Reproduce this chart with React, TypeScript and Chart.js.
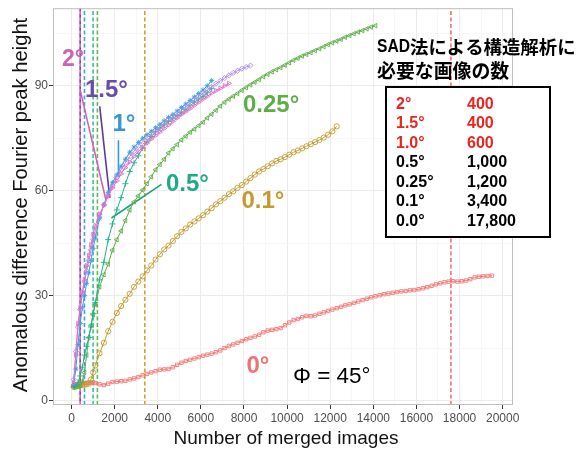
import React, { useEffect, useRef } from 'react';
import { Chart, registerables } from 'chart.js';
Chart.register(...registerables);

// Number of merged images (shared x grid)
const X_IMAGES = [
  100, 200, 300, 400, 500, 600, 700, 800, 900, 1000,
  1100, 1300, 1500, 1700, 1900, 2100, 2300, 2500, 2700, 2900,
  3100, 3300, 3500, 3700, 3900, 4100, 4300, 4500, 4700, 4900,
  5100, 5300, 5500, 5700, 5900, 6100, 6300, 6500, 6700, 6900,
  7100, 7300, 7500, 7700, 7900, 8100, 8300, 8500, 8700, 8900,
  9100, 9300, 9500, 9700, 9900, 10100, 10300, 10500, 10700, 10900,
  11100, 11300, 11500, 11700, 11900, 12100, 12300, 12500, 12700, 12900,
  13100, 13300, 13500, 13700, 13900, 14100, 14300, 14500, 14700, 14900,
  15100, 15300, 15500, 15700, 15900, 16100, 16300, 16500, 16700, 16900,
  17100, 17300, 17500, 17700, 17900, 18100, 18300, 18500, 18700, 18900,
  19100, 19300, 19500,
];

// Anomalous difference Fourier peak height per series
const Y_0 = [
  4.2, 4.4, 4.6, 4.8, 4.9, 5.0, 5.0, 5.1, 5.1, 5.2,
  5.0, 4.6, 4.4, 4.8, 5.3, 5.4, 5.5, 5.6, 6.0, 6.3,
  6.7, 7.2, 7.6, 8.0, 8.4, 8.8, 8.9, 9.0, 9.5, 10.2,
  10.8, 11.3, 11.6, 12.0, 12.4, 12.8, 13.1, 13.4, 13.8, 14.3,
  15.0, 15.6, 16.0, 16.5, 17.0, 17.5, 17.9, 18.3, 18.8, 19.5,
  20.0, 20.2, 20.4, 20.7, 21.5, 22.3, 23.0, 23.3, 23.8, 24.2,
  24.1, 24.3, 24.8, 25.2, 25.6, 26.0, 26.4, 26.8, 27.2, 27.5,
  27.9, 28.3, 28.7, 29.1, 29.5, 29.8, 30.1, 30.4, 30.6, 30.8,
  31.0, 31.2, 31.3, 31.5, 31.6, 31.8, 32.1, 32.4, 32.8, 33.2,
  33.5, 33.8, 34.0, 34.1, 34.0, 34.1, 34.3, 34.7, 35.2, 35.4,
  35.5, 35.6, 35.7,
];
const Y_01 = [
  3.9, 4.0, 4.2, 4.3, 4.4, 4.5, 4.6, 4.8, 6.0, 8.0,
  10.0, 13.5, 16.5, 19.8, 22.5, 25.0, 27.0, 28.8, 30.5, 32.5,
  34.0, 35.5, 37.2, 38.6, 40.3, 41.8, 43.2, 44.3, 45.6, 47.0,
  48.2, 49.2, 50.3, 51.2, 52.1, 53.0, 54.0, 55.0, 56.1, 57.0,
  58.0, 59.0, 59.8, 60.8, 61.6, 62.6, 63.6, 64.6, 65.5, 66.2,
  67.0, 67.8, 68.5, 69.0, 69.6, 70.3, 71.0, 71.5, 72.1, 72.7,
  73.3, 73.9, 74.5, 75.2, 76.0, 77.0, 78.4,
];
const Y_025 = [
  3.8, 3.9, 4.0, 4.3, 5.5, 8.0, 13.0, 18.0, 21.5, 24.5,
  27.5, 32.5, 36.0, 39.0, 43.0, 46.0, 48.5, 51.5, 54.5, 56.8,
  58.5, 60.2, 62.0, 64.0, 66.0, 67.5, 69.0, 70.8, 72.0, 73.2,
  74.5, 75.6, 76.7, 77.6, 78.6, 79.6, 80.8, 81.9, 83.0, 84.2,
  85.3, 86.2, 87.0, 87.8, 88.7, 89.5, 90.3, 91.0, 91.8, 92.6,
  93.3, 94.0, 94.6, 95.2, 95.9, 96.6, 97.3, 97.9, 98.5, 99.0,
  99.5, 100.1, 100.6, 101.2, 101.8, 102.3, 102.8, 103.3, 103.9, 104.4,
  104.9, 105.4, 105.8, 106.3, 106.8, 107.2,
];
const Y_05 = [
  4.0, 4.2, 5.2, 7.0, 9.5, 13.0, 15.5, 18.0, 21.0, 24.8,
  28.0, 34.5, 39.5, 46.0, 50.5, 54.5, 58.0, 62.0, 65.5, 68.0,
  70.0, 72.2, 74.0, 75.5, 76.8, 77.9, 78.8, 79.8, 80.7, 81.5,
  82.3, 83.3, 84.3, 85.3, 86.2, 87.0, 88.0, 89.2,
];
const Y_1 = [
  4.5, 9.0, 16.0, 22.0, 26.5, 30.0, 33.5, 36.5, 40.0, 43.5,
  46.5, 52.0, 56.0, 59.5, 62.3, 64.5, 67.0, 69.0, 71.0, 72.5,
  73.8, 75.0, 76.0, 77.0, 78.0, 79.0, 80.0, 81.0, 81.8, 82.8,
  83.8, 84.8, 85.8, 86.8, 87.8, 88.8, 90.0, 91.5,
];
const Y_15 = [
  6.0, 14.0, 21.0, 26.0, 30.5, 34.0, 37.0, 40.0, 43.0, 46.0,
  48.5, 52.5, 56.0, 58.8, 61.5, 63.8, 66.0, 68.0, 69.8, 71.3,
  72.8, 74.0, 75.2, 76.3, 77.3, 78.3, 79.3, 80.3, 81.2, 82.1,
  83.0, 84.0, 85.0, 86.0, 87.0, 87.9, 88.8, 89.7, 90.6, 91.4,
  92.2, 93.0, 93.7, 94.3, 94.9, 95.4, 95.8,
];
const Y_2 = [
  5.0, 13.0, 22.0, 26.5, 31.0, 34.5, 38.5, 41.5, 44.5, 47.5,
  50.0, 53.3, 55.8, 58.3, 60.8, 62.8, 64.8, 66.6, 68.2, 69.8,
  71.2, 72.4, 73.6, 74.8, 75.8, 76.8, 77.8, 78.8, 79.8, 80.8,
  81.8, 82.6, 83.5, 84.4, 85.3, 86.2, 87.0, 87.9, 88.6, 89.3,
  90.0, 90.7,
];

// Images required for SAD solution (vertical dashed lines)
const REQUIRED_ANGLES = ['2°', '1.5°', '1.0°', '0.5°', '0.25°', '0.1°', '0.0°'];
const REQUIRED_LABELS = ['400', '400', '600', '1,000', '1,200', '3,400', '17,800'];
const REQUIRED_LINE_X = [400, 400, 600, 1000, 1200, 3400, 17600];

// Label connector lines (data units)
const CONNECT_2 = [{ x: 404, y: 88.7 }, { x: 1587, y: 57.5 }];
const CONNECT_15 = [{ x: 1308, y: 84.1 }, { x: 1772, y: 57.9 }];
const CONNECT_1 = [{ x: 2176, y: 74.4 }, { x: 2176, y: 64.0 }];
const CONNECT_05 = [{ x: 4171, y: 61.8 }, { x: 1851, y: 52.2 }];

// Axes
const X_MAJOR = [0, 2000, 4000, 6000, 8000, 10000, 12000, 14000, 16000, 18000, 20000];
const X_MINOR = [1000, 3000, 5000, 7000, 9000, 11000, 13000, 15000, 17000, 19000];
const Y_MAJOR = [0, 30, 60, 90];
const Y_MINOR = [15, 45, 75, 105];
const X_RANGE = [-860, 20480];
const Y_RANGE = [-1.3, 112.2];

const FONT = '"Liberation Sans", Arial, "Noto Sans CJK JP", sans-serif';
const CJK = '"Noto Sans CJK JP", "Liberation Sans", sans-serif';

const pts = (ys: number[]) => ys.map((y, i) => ({ x: X_IMAGES[i], y }));

function series(label: string, ys: number[], color: string, style: any, rot = 0, radius = 2.6) {
  return {
    label,
    data: pts(ys),
    borderColor: color,
    backgroundColor: 'rgba(0,0,0,0)',
    borderWidth: 1,
    pointStyle: style,
    pointRotation: rot,
    pointRadius: radius,
    pointBorderWidth: 0.9,
    pointBorderColor: color,
    pointBackgroundColor: 'rgba(0,0,0,0)',
    tension: 0,
    fill: false,
  };
}

function segment(data: { x: number; y: number }[], color: string, width: number, dash: number[] = [], offset = 0) {
  return {
    label: '',
    data,
    borderColor: color,
    borderWidth: width,
    borderDash: dash,
    borderDashOffset: offset,
    pointRadius: 0,
    fill: false,
    tension: 0,
  };
}

const VLINE_COLORS = ['#D966C0', '#7A3DA8', '#3DA3E0', '#3CBF9F', '#5DBB4A', '#D2A136', '#F07272'];

const overlay = {
  id: 'overlay',
  afterDraw(chart: any) {
    const ctx = chart.ctx as CanvasRenderingContext2D;
    const a = chart.chartArea;
    ctx.save();
    // panel border
    ctx.strokeStyle = '#BEBEBE';
    ctx.lineWidth = 1;
    ctx.strokeRect(a.left + 0.5, a.top + 0.5, a.right - a.left - 1, a.bottom - a.top - 1);

    // axis titles
    ctx.fillStyle = '#111';
    ctx.font = `19px ${FONT}`;
    ctx.textAlign = 'center';
    ctx.textBaseline = 'alphabetic';
    ctx.fillText('Number of merged images', 286, 444);
    ctx.save();
    ctx.translate(27, 205);
    ctx.rotate(-Math.PI / 2);
    ctx.font = `20.2px ${FONT}`;
    ctx.fillText('Anomalous difference Fourier peak height', 0, 0);
    ctx.restore();

    // series labels
    ctx.textAlign = 'left';
    const lab = (t: string, x: number, y: number, c: string, size = 24) => {
      ctx.font = `bold ${size}px ${FONT}`;
      ctx.fillStyle = c;
      ctx.fillText(t, x, y);
    };
    lab('2°', 62, 65.5, '#C963B5', 23);
    lab('1.5°', 85, 96.5, '#6A4BA6');
    lab('1°', 112.5, 130.5, '#3A97D6');
    lab('0.5°', 166, 190.5, '#20AA87');
    lab('0.25°', 243, 111.5, '#5DAE45');
    lab('0.1°', 241.5, 208, '#C49A2A');
    lab('0°', 246.5, 373, '#EF7373');
    ctx.font = `22.5px ${FONT}`;
    ctx.fillStyle = '#000';
    ctx.fillText('Φ = 45°', 293, 383);

    // table title
    ctx.fillStyle = '#000';
    ctx.textBaseline = 'middle';
    ctx.save();
    ctx.font = `bold 18px ${FONT}`;
    const sw = ctx.measureText('SAD').width;
    ctx.translate(377, 47.5);
    ctx.scale(33 / sw, 1);
    ctx.fillText('SAD', 0, 0);
    ctx.restore();
    ctx.font = `bold 18.4px ${CJK}`;
    ctx.fillText('法による構造解析に', 410, 47.5);
    ctx.font = `bold 18.9px ${CJK}`;
    ctx.fillText('必要な画像の数', 377, 71);

    // table box
    ctx.fillStyle = '#fff';
    ctx.fillRect(386, 87, 164, 150);
    ctx.strokeStyle = '#000';
    ctx.lineWidth = 2;
    ctx.strokeRect(386, 87, 164, 150);
    ctx.font = `bold 16px ${FONT}`;
    ctx.textBaseline = 'alphabetic';
    REQUIRED_ANGLES.forEach((ang, i) => {
      const y = 103 + i * 19.5 + 5.8;
      ctx.fillStyle = i < 3 ? '#E8251F' : '#000';
      ctx.fillText(ang, 396, y);
      ctx.fillText(REQUIRED_LABELS[i], 467, y);
    });
    ctx.restore();
  },
};

export default function App() {
  const ref = useRef<HTMLCanvasElement>(null);
  useEffect(() => {
    Chart.defaults.font.family = FONT;
    const vlines = REQUIRED_LINE_X.map((x, i) =>
      segment([{ x, y: Y_RANGE[0] }, { x, y: Y_RANGE[1] }], VLINE_COLORS[i], 1.6, [4, 2.5], i === 1 ? 3 : 0)
    );
    const datasets: any[] = [
      series('2°', Y_2, '#E36BCB', 'triangle', 90),
      series('1.5°', Y_15, '#A98BE6', 'rectRot'),
      series('1°', Y_1, '#2FA3DD', 'star', 0, 2.5),
      series('0.5°', Y_05, '#1DB28A', 'cross', 0, 3),
      series('0.25°', Y_025, '#5BAF45', 'triangle', 270),
      series('0.1°', Y_01, '#C49A2C', 'circle'),
      series('0°', Y_0, '#F27B78', 'rect', 0, 2.4),
      segment(CONNECT_2, '#D45FB8', 1.6),
      segment(CONNECT_15, '#5B3A9B', 1.6),
      segment(CONNECT_1, '#2E9BDA', 1.6),
      segment(CONNECT_05, '#19A383', 1.6),
      ...vlines,
    ];
    const chart = new Chart(ref.current!, {
      type: 'line',
      data: { datasets },
      plugins: [overlay],
      options: {
        animation: false,
        responsive: false,
        devicePixelRatio: 1,
        layout: { padding: { left: 0, right: 66, top: 5, bottom: 0 } },
        plugins: { legend: { display: false }, tooltip: { enabled: false } },
        scales: {
          x: {
            type: 'linear',
            min: X_RANGE[0],
            max: X_RANGE[1],
            afterBuildTicks: (s: any) => {
              s.ticks = [...X_MAJOR, ...X_MINOR].sort((p, q) => p - q).map((v) => ({ value: v }));
            },
            afterFit: (s: any) => { s.height = 47; },
            border: { display: false },
            grid: {
              color: (c: any) => (c.tick && X_MAJOR.includes(c.tick.value) ? '#EBEBEB' : '#F3F3F3'),
              lineWidth: (c: any) => (c.tick && X_MAJOR.includes(c.tick.value) ? 1 : 0.7),
              tickColor: (c: any) => (c.tick && X_MAJOR.includes(c.tick.value) ? '#333' : 'rgba(0,0,0,0)'),
              tickLength: 4,
            },
            ticks: {
              autoSkip: false,
              maxRotation: 0,
              padding: 2,
              color: '#4D4D4D',
              font: { size: 12, family: FONT },
              callback: (v: any) => (X_MAJOR.includes(v) ? String(v) : ''),
            },
          },
          y: {
            type: 'linear',
            min: Y_RANGE[0],
            max: Y_RANGE[1],
            afterBuildTicks: (s: any) => {
              s.ticks = [...Y_MAJOR, ...Y_MINOR].sort((p, q) => p - q).map((v) => ({ value: v }));
            },
            afterFit: (s: any) => { s.width = 53; },
            border: { display: false },
            grid: {
              color: (c: any) => (c.tick && Y_MAJOR.includes(c.tick.value) ? '#EBEBEB' : '#F3F3F3'),
              lineWidth: (c: any) => (c.tick && Y_MAJOR.includes(c.tick.value) ? 1 : 0.7),
              tickColor: (c: any) => (c.tick && Y_MAJOR.includes(c.tick.value) ? '#333' : 'rgba(0,0,0,0)'),
              tickLength: 4,
            },
            ticks: {
              autoSkip: false,
              padding: 1,
              color: '#4D4D4D',
              font: { size: 12, family: FONT },
              callback: (v: any) => (Y_MAJOR.includes(v) ? String(v) : ''),
            },
          },
        },
      },
    } as any);
    return () => chart.destroy();
  }, []);
  return (
    <div style={{ position: 'absolute', left: 0, top: 0, width: 579, height: 452, background: '#fff' }}>
      <canvas ref={ref} width={579} height={452} style={{ display: 'block', width: 579, height: 452 }} />
    </div>
  );
}
